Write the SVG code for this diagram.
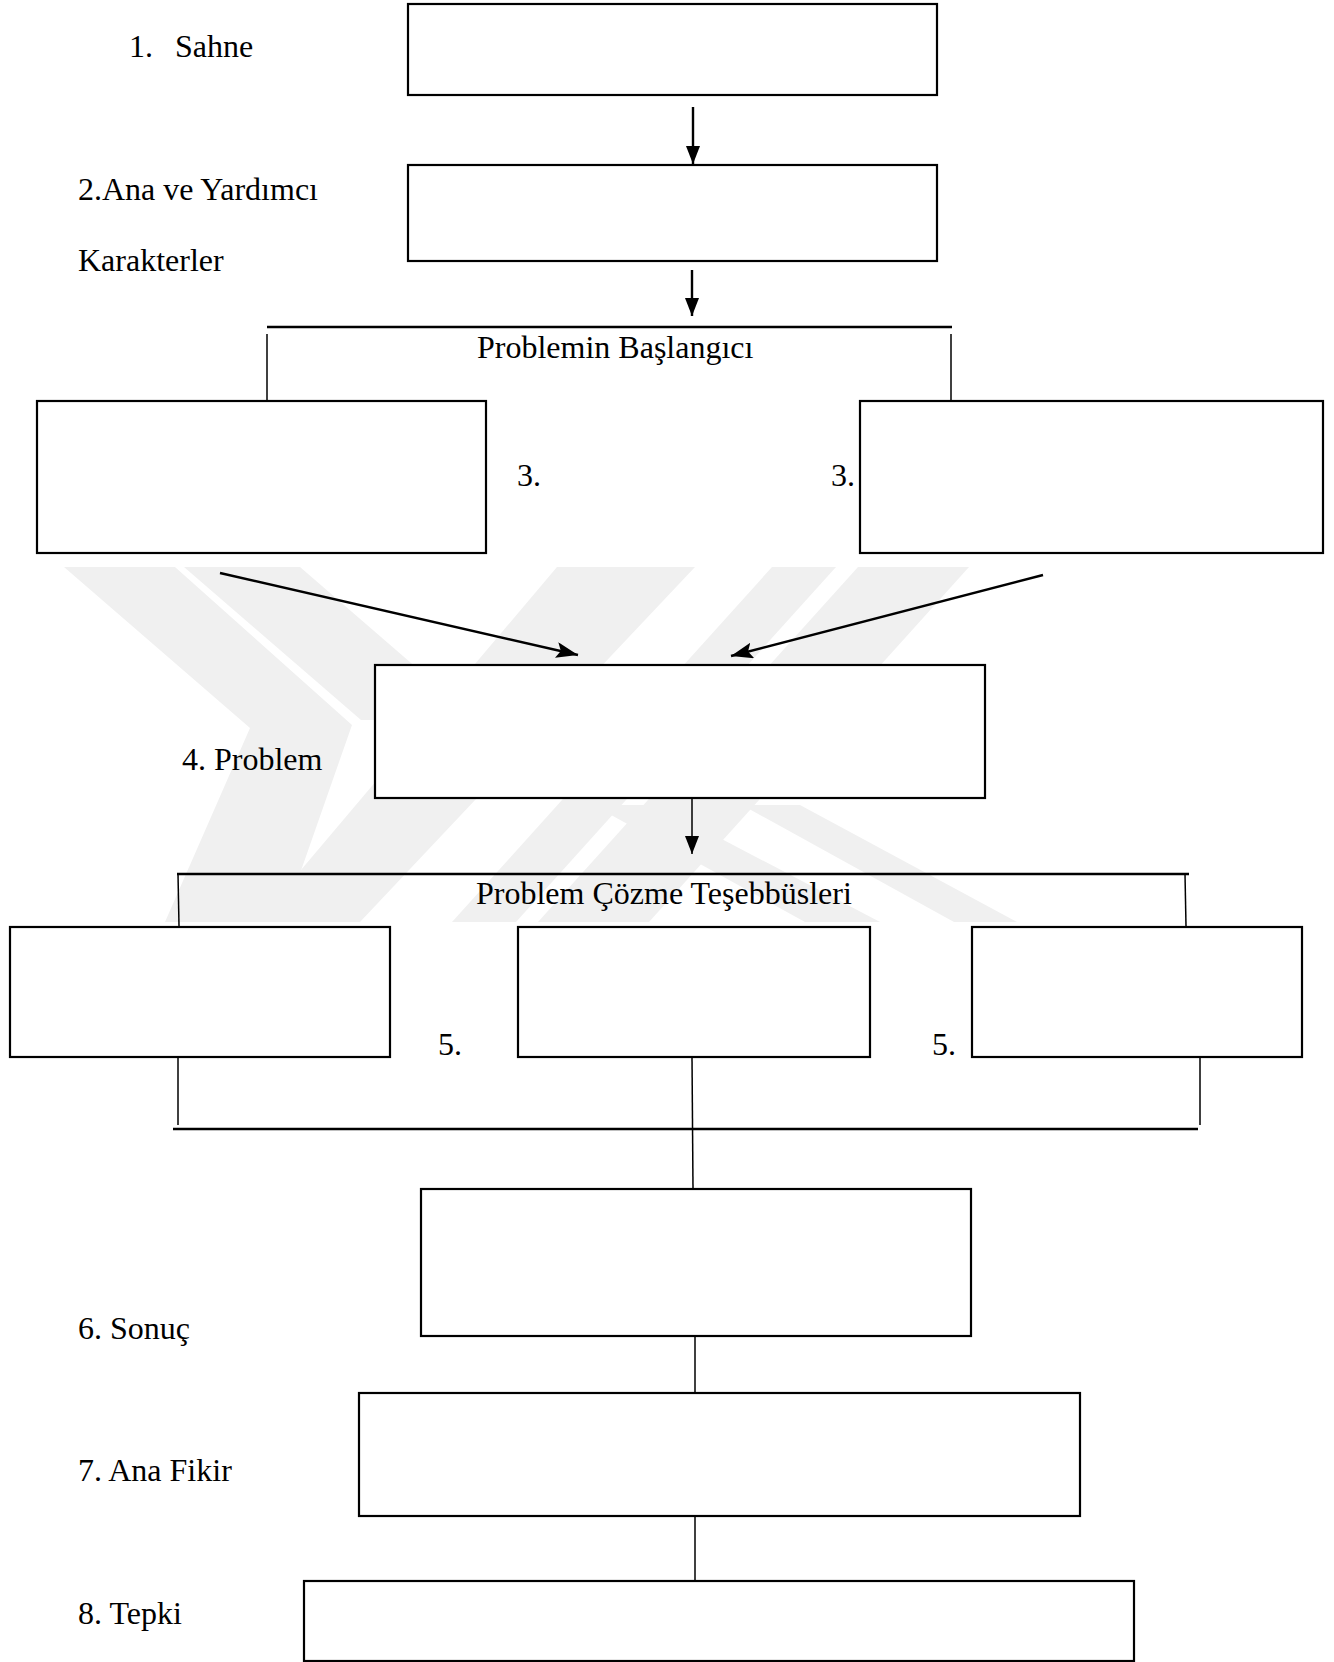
<svg xmlns="http://www.w3.org/2000/svg" width="1334" height="1662" viewBox="0 0 1334 1662">
<style>
.box{fill:#fff;stroke:#000;stroke-width:2.2}
.lbl{font-family:"Liberation Serif","Times New Roman",serif;font-size:32px;fill:#000}
.thin{stroke:#000;stroke-width:1.5;fill:none}
.bar{stroke:#000;stroke-width:2.6;fill:none}
.arr{stroke:#000;stroke-width:2.4;fill:none}
.wm{fill:#f0f0f0}
</style>
<defs>
<marker id="ah" viewBox="0 0 10 10" refX="10" refY="5" markerWidth="18" markerHeight="14" markerUnits="userSpaceOnUse" orient="auto" preserveAspectRatio="none">
<path d="M0,0 L10,5 L0,10 Z" fill="#000"/>
</marker>
<marker id="ahd" viewBox="0 0 10 10" refX="10" refY="5" markerWidth="22" markerHeight="16" markerUnits="userSpaceOnUse" orient="auto" preserveAspectRatio="none">
<path d="M0,0 L10,5 L0,10 L2,5 Z" fill="#000"/>
</marker>
</defs>
<rect width="1334" height="1662" fill="#fff"/>
<g id="watermark">
<polygon class="wm" points="64,567 175,567 352,725 283,922 165,922 250,728"/>
<polygon class="wm" points="184,567 300,567 477,720 361,720"/>
<polygon class="wm" points="557,567 695,567 360,922 257,922"/>
<polygon class="wm" points="772,567 836,567 516,922 452,922"/>
<polygon class="wm" points="858,567 969,567 649,922 538,922"/>
<polygon class="wm" points="593,805 657,805 880,922 805,922"/>
<polygon class="wm" points="742,805 800,805 1017,922 954,922"/>
</g>
<g id="connectors">
<line class="arr" x1="693" y1="107" x2="693" y2="164" marker-end="url(#ah)"/>
<line class="arr" x1="692" y1="270" x2="692" y2="316" marker-end="url(#ah)"/>
<line class="bar" x1="267" y1="327" x2="952" y2="327"/>
<line class="thin" x1="267" y1="334" x2="267" y2="400"/>
<line class="thin" x1="951" y1="334" x2="951" y2="400"/>
<line class="arr" x1="220" y1="573" x2="578" y2="655" stroke-width="3" marker-end="url(#ahd)"/>
<line class="arr" x1="1043" y1="575" x2="731" y2="656" stroke-width="3" marker-end="url(#ahd)"/>
<line class="thin" x1="692" y1="798" x2="692" y2="854" marker-end="url(#ah)"/>
<line class="bar" x1="177" y1="874" x2="1189" y2="874"/>
<line class="thin" x1="178" y1="874" x2="179" y2="926"/>
<line class="thin" x1="1185" y1="874" x2="1186" y2="926"/>
<line class="thin" x1="178" y1="1057" x2="178" y2="1125"/>
<line class="thin" x1="1200" y1="1057" x2="1200" y2="1125"/>
<line class="bar" x1="173" y1="1129" x2="1198" y2="1129"/>
<line class="thin" x1="692" y1="1057" x2="693" y2="1189"/>
<line class="thin" x1="695" y1="1336" x2="695" y2="1393"/>
<line class="thin" x1="695" y1="1516" x2="695" y2="1581"/>
</g>
<g id="n1"><rect class="box" x="408" y="4" width="529" height="91"/><text class="lbl" x="129" y="57">1.</text><text class="lbl" x="175" y="57">Sahne</text></g>
<g id="n2"><rect class="box" x="408" y="165" width="529" height="96"/><text class="lbl" x="78" y="200">2.Ana ve Yardımcı</text><text class="lbl" x="78" y="271">Karakterler</text></g>
<g id="t3"><text class="lbl" x="477" y="358">Problemin Başlangıcı</text></g>
<g id="n3a"><rect class="box" x="37" y="401" width="449" height="152"/><text class="lbl" x="517" y="486">3.</text></g>
<g id="n3b"><rect class="box" x="860" y="401" width="463" height="152"/><text class="lbl" x="831" y="486">3.</text></g>
<g id="n4"><rect class="box" x="375" y="665" width="610" height="133"/><text class="lbl" x="182" y="770">4. Problem</text></g>
<g id="t5"><text class="lbl" x="476" y="904">Problem Çözme Teşebbüsleri</text></g>
<g id="n5a"><rect class="box" x="10" y="927" width="380" height="130"/><text class="lbl" x="438" y="1055">5.</text></g>
<g id="n5b"><rect class="box" x="518" y="927" width="352" height="130"/></g>
<g id="n5c"><rect class="box" x="972" y="927" width="330" height="130"/><text class="lbl" x="932" y="1055">5.</text></g>
<g id="n6"><rect class="box" x="421" y="1189" width="550" height="147"/><text class="lbl" x="78" y="1339">6. Sonuç</text></g>
<g id="n7"><rect class="box" x="359" y="1393" width="721" height="123"/><text class="lbl" x="78" y="1481">7. Ana Fikir</text></g>
<g id="n8"><rect class="box" x="304" y="1581" width="830" height="80"/><text class="lbl" x="78" y="1624">8. Tepki</text></g>
</svg>
